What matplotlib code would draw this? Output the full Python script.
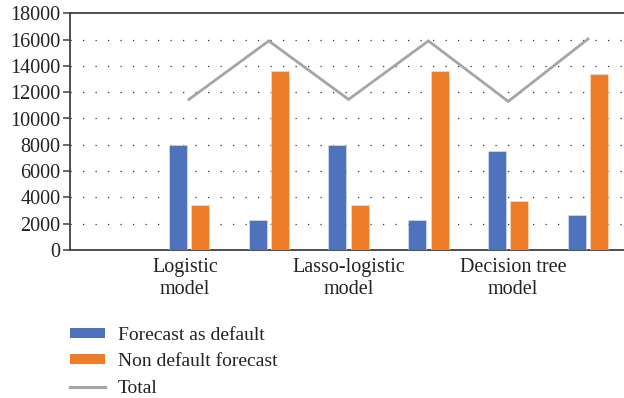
import numpy as np
import matplotlib
matplotlib.use('Agg')
import matplotlib.pyplot as plt
from matplotlib.patches import Patch
from matplotlib.lines import Line2D

# valeurs
MODELES = ['Logistic\nmodel', 'Lasso-logistic\nmodel', 'Decision tree\nmodel']
PREVU_DEFAUT = [8000, 2250, 8000, 2250, 7550, 2650]
PREVU_NON_DEFAUT = [3450, 13650, 3450, 13650, 3700, 13350]
TOTAL = [11450, 15900, 11450, 15900, 11300, 16050]
Y_TICKS = [0, 2000, 4000, 6000, 8000, 10000, 12000, 14000, 16000, 18000]

BLEU = '#4f72bd'
ORANGE = '#ed7d27'
GRIS = '#a5a5a5'

plt.rcParams['font.family'] = ['Liberation Serif', 'DejaVu Serif']

fig = plt.figure(figsize=(6.24, 3.98), dpi=100)
W, H = 624, 398
ax = fig.add_axes([70 / W, (H - 250) / H, (W - 70) / W, (250 - 13.3) / H])

x = np.arange(len(TOTAL))
largeur = 0.225
ax.bar(x - 0.14, PREVU_DEFAUT, width=largeur, color=BLEU, edgecolor='#dfe6f4', linewidth=0.4, zorder=3)
ax.bar(x + 0.14, PREVU_NON_DEFAUT, width=largeur, color=ORANGE, edgecolor='#fbe0cc', linewidth=0.4, zorder=3)
ax.plot(x, TOTAL, color=GRIS, linewidth=2, zorder=4, solid_joinstyle='miter')

ax.set_xlim(-1.49, 5.45)
ax.set_ylim(0, 18000)
ax.set_yticks(Y_TICKS)
ax.set_yticklabels([str(v) for v in Y_TICKS], fontsize=14.5)
ax.set_xticks([])
for y in Y_TICKS[1:-1]:
    ax.axhline(y, color='#333333', linewidth=0.9, linestyle=(0, (1, 9)), zorder=1)

for cote in ['left', 'bottom', 'top']:
    ax.spines[cote].set_color('#404040')
    ax.spines[cote].set_linewidth(1.3)
ax.spines['right'].set_visible(False)
ax.tick_params(axis='y', length=5, width=1.1, color='#404040', pad=2, labelcolor='#222222')

# étiquettes des modèles
for pos, nom in zip([-0.05, 2.0, 4.06], MODELES):
    ax.text(pos, -0.033, nom, transform=ax.get_xaxis_transform(), ha='center', va='top',
            fontsize=14.5, linespacing=1.2, color='#222222')

handles = [Patch(facecolor=BLEU, edgecolor='none'),
           Patch(facecolor=ORANGE, edgecolor='none'),
           Line2D([0], [0], color=GRIS, linewidth=2.2)]
labels = ['Forecast as default', 'Non default forecast', 'Total']
fig.legend(handles, labels, loc='upper left', bbox_to_anchor=(70 / W, 1 - 327 / H), frameon=False,
           fontsize=14, handlelength=1.8, handleheight=0.42, handletextpad=0.67, labelspacing=0.48,
           borderpad=0, borderaxespad=0, labelcolor='#222222')

fig.savefig('out.png', dpi=100)
